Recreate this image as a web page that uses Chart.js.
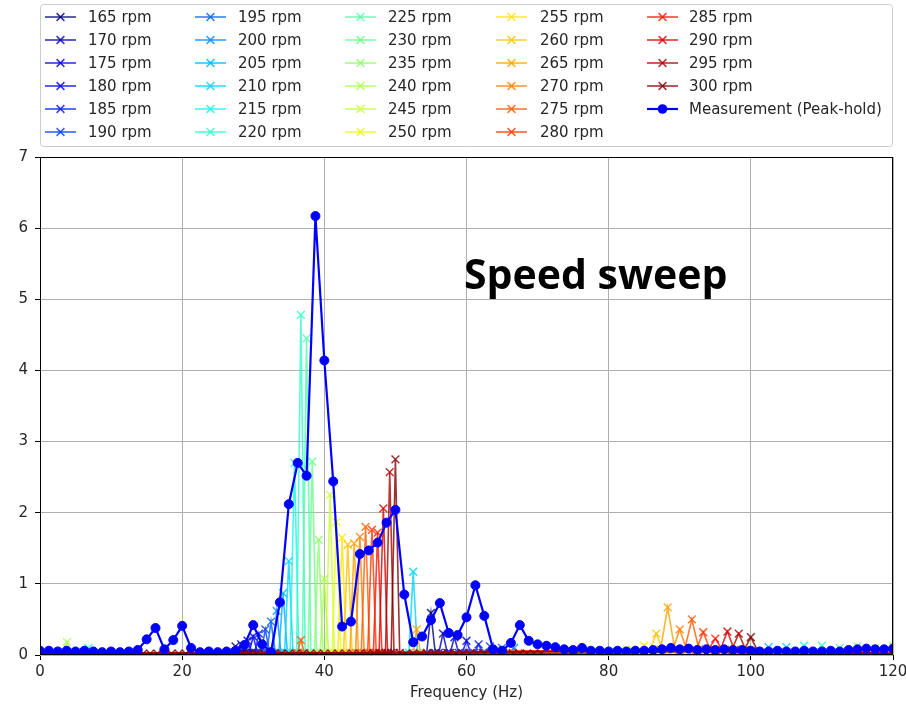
<!DOCTYPE html>
<html><head><meta charset="utf-8">
<script src="https://cdn.jsdelivr.net/npm/chart.js@4.4.1/dist/chart.umd.min.js"></script>
<style>html,body{margin:0;padding:0;background:#fff;}</style>
</head><body>
<canvas id="c" width="906" height="704"></canvas>
<script>
// ---------- DATA ----------
const rpmLabels = ['165 rpm','170 rpm','175 rpm','180 rpm','185 rpm','190 rpm','195 rpm','200 rpm','205 rpm','210 rpm','215 rpm','220 rpm','225 rpm','230 rpm','235 rpm','240 rpm','245 rpm','250 rpm','255 rpm','260 rpm','265 rpm','270 rpm','275 rpm','280 rpm','285 rpm','290 rpm','295 rpm','300 rpm'];
const measLabel = 'Measurement (Peak-hold)';

// [frequency Hz, amplitude] per speed
const s165 = [[0,0.02],[26.9,0.03],[27.5,0.12],[28.1,0.03],[54.4,0.03],[55.0,0.59],[55.6,0.03],[120,0.02]];
const s170 = [[0,0.02],[27.7,0.03],[28.3,0.15],[28.9,0.03],[56.1,0.03],[56.7,0.30],[57.3,0.03],[120,0.02]];
const s175 = [[0,0.02],[28.6,0.03],[29.2,0.20],[29.8,0.03],[57.7,0.03],[58.3,0.25],[58.9,0.03],[120,0.02]];
const s180 = [[0,0.02],[29.4,0.03],[30.0,0.26],[30.6,0.03],[59.4,0.03],[60.0,0.20],[60.6,0.03],[120,0.02]];
const s185 = [[0,0.02],[30.2,0.03],[30.8,0.30],[31.4,0.03],[61.1,0.03],[61.7,0.15],[62.3,0.03],[120,0.02]];
const s190 = [[0,0.02],[31.1,0.03],[31.7,0.36],[32.3,0.03],[62.7,0.03],[63.3,0.12],[63.9,0.03],[120,0.02]];
const s195 = [[0,0.02],[31.9,0.03],[32.5,0.47],[33.1,0.03],[64.4,0.03],[65.0,0.10],[65.6,0.03],[120,0.02]];
const s200 = [[0,0.02],[32.7,0.03],[33.3,0.62],[33.9,0.03],[66.1,0.03],[66.7,0.10],[67.3,0.03],[120,0.02]];
const s205 = [[0,0.02],[33.6,0.03],[34.2,0.87],[34.8,0.03],[101.9,0.03],[102.5,0.11],[103.1,0.03],[120,0.02]];
const s210 = [[0,0.02],[34.4,0.03],[35.0,1.32],[35.6,0.03],[51.9,0.03],[52.5,1.17],[53.1,0.03],[104.4,0.03],[105.0,0.11],[105.6,0.03],[120,0.02]];
const s215 = [[0,0.02],[6.2,0.03],[6.8,0.10],[7.4,0.03],[35.2,0.03],[35.8,2.70],[36.4,0.03],[106.9,0.03],[107.5,0.13],[108.1,0.03],[120,0.02]];
const s220 = [[0,0.02],[36.1,0.03],[36.7,4.78],[37.3,0.03],[109.4,0.03],[110.0,0.13],[110.6,0.03],[120,0.02]];
const s225 = [[0,0.02],[36.9,0.03],[37.5,4.45],[38.1,0.03],[111.9,0.03],[112.5,0.10],[113.1,0.03],[120,0.02]];
const s230 = [[0,0.02],[37.7,0.03],[38.3,2.72],[38.9,0.03],[114.4,0.03],[115.0,0.12],[115.6,0.03],[120,0.02]];
const s235 = [[0,0.02],[38.6,0.03],[39.2,1.62],[39.8,0.03],[116.9,0.03],[117.5,0.10],[118.1,0.03],[120,0.02]];
const s240 = [[0,0.02],[3.2,0.03],[3.8,0.18],[4.4,0.03],[39.4,0.03],[40.0,1.07],[40.6,0.03],[119.4,0.03],[120,0.13]];
const s245 = [[0,0.02],[40.2,0.03],[40.8,2.25],[41.4,0.03],[80.7,0.03],[81.7,0.06],[82.7,0.03],[120,0.02]];
const s250 = [[0,0.02],[41.1,0.03],[41.7,1.87],[42.3,0.03],[82.3,0.03],[83.3,0.08],[84.3,0.03],[120,0.02]];
const s255 = [[0,0.02],[41.9,0.03],[42.5,1.65],[43.1,0.03],[84.0,0.04],[85.0,0.13],[86.0,0.04],[120,0.02]];
const s260 = [[0,0.02],[42.7,0.03],[43.3,1.55],[43.9,0.03],[85.7,0.05],[86.7,0.30],[87.7,0.05],[120,0.02]];
const s265 = [[0,0.02],[43.6,0.03],[44.2,1.57],[44.8,0.03],[52.5,0.03],[53.0,0.36],[53.5,0.03],[87.3,0.08],[88.3,0.67],[89.3,0.08],[120,0.02]];
const s270 = [[0,0.02],[44.4,0.03],[45.0,1.66],[45.6,0.03],[89.0,0.07],[90.0,0.36],[91.0,0.07],[120,0.02]];
const s275 = [[0,0.02],[36.2,0.03],[36.7,0.21],[37.2,0.03],[45.2,0.03],[45.8,1.80],[46.4,0.03],[90.7,0.08],[91.7,0.50],[92.7,0.08],[120,0.02]];
const s280 = [[0,0.02],[46.1,0.03],[46.7,1.76],[47.3,0.03],[92.3,0.07],[93.3,0.32],[94.3,0.07],[120,0.02]];
const s285 = [[0,0.02],[46.9,0.03],[47.5,1.72],[48.1,0.03],[94.0,0.07],[95.0,0.23],[96.0,0.07],[120,0.02]];
const s290 = [[0,0.02],[47.7,0.03],[48.3,2.06],[48.9,0.03],[95.7,0.07],[96.7,0.33],[97.7,0.07],[120,0.02]];
const s295 = [[0,0.02],[48.6,0.03],[49.2,2.57],[49.8,0.03],[97.3,0.07],[98.3,0.30],[99.3,0.07],[120,0.02]];
const s300 = [[0,0.02],[14.5,0.02],[15.5,0.02],[16.5,0.02],[17.5,0.02],[18.5,0.02],[19.5,0.02],[20.5,0.02],[21.3,0.02],
  [28.5,0.02],[29.5,0.02],[30.5,0.02],[31.5,0.02],[33.0,0.02],[34.0,0.02],[35.0,0.02],[36.0,0.02],[37.0,0.02],[38.0,0.02],
  [39.0,0.02],[40.0,0.02],[41.0,0.02],[42.0,0.02],[43.0,0.02],[44.0,0.02],[45.0,0.02],[46.0,0.02],[47.0,0.02],[48.0,0.02],
  [49.4,0.03],[50.0,2.75],[50.6,0.03],[51.5,0.02],[52.5,0.02],[53.5,0.02],[54.5,0.02],[55.5,0.02],[56.5,0.02],[57.5,0.02],
  [58.5,0.02],[59.5,0.02],[60.5,0.02],[61.5,0.02],[62.5,0.02],[66.5,0.02],[67.5,0.02],[68.5,0.02],[69.5,0.02],[70.5,0.02],
  [99.0,0.06],[100.0,0.25],[101.0,0.05],[120,0.02]];
const rpmSeries = [s165,s170,s175,s180,s185,s190,s195,s200,s205,s210,s215,s220,s225,s230,s235,s240,s245,s250,s255,s260,s265,s270,s275,s280,s285,s290,s295,s300];

const measFreq = [0,1.25,2.5,3.75,5,6.25,7.5,8.75,10,11.25,12.5,13.75,15,16.25,17.5,18.75,20,21.25,22.5,23.75,25,26.25,27.5,28.75,30,31.25,32.5,33.75,35,36.25,37.5,38.75,40,41.25,42.5,43.75,45,46.25,47.5,48.75,50,51.25,52.5,53.75,55,56.25,57.5,58.75,60,61.25,62.5,63.75,65,66.25,67.5,68.75,70,71.25,72.5,73.75,75,76.25,77.5,78.75,80,81.25,82.5,83.75,85,86.25,87.5,88.75,90,91.25,92.5,93.75,95,96.25,97.5,98.75,100,101.25,102.5,103.75,105,106.25,107.5,108.75,110,111.25,112.5,113.75,115,116.25,117.5,118.75,120];
const measValues = [0.06,0.06,0.05,0.06,0.05,0.06,0.05,0.04,0.05,0.04,0.05,0.07,0.22,0.38,0.08,0.21,0.41,0.10,0.04,0.05,0.04,0.05,0.06,0.14,0.42,0.15,0.04,0.74,2.12,2.70,2.52,6.17,4.14,2.44,0.40,0.47,1.42,1.47,1.58,1.86,2.04,0.85,0.18,0.26,0.49,0.73,0.31,0.28,0.53,0.98,0.55,0.08,0.06,0.17,0.42,0.20,0.15,0.13,0.11,0.08,0.07,0.10,0.06,0.06,0.05,0.06,0.05,0.06,0.06,0.07,0.08,0.10,0.08,0.09,0.07,0.08,0.07,0.08,0.07,0.07,0.06,0.05,0.05,0.06,0.05,0.05,0.06,0.05,0.05,0.06,0.05,0.07,0.08,0.09,0.08,0.08,0.09];

const xTicks = [0,20,40,60,80,100,120];
const yTicks = [0,1,2,3,4,5,6,7];
const xTitle = 'Frequency (Hz)';
const annotationText = 'Speed sweep';

// ---------- STYLE ----------
const jetR=[[0,0],[0.35,0],[0.66,1],[0.89,1],[1,0.5]];
const jetG=[[0,0],[0.125,0],[0.375,1],[0.64,1],[0.91,0],[1,0]];
const jetB=[[0,0.5],[0.11,1],[0.34,1],[0.65,0],[1,0]];
function seg(t,p){for(let i=1;i<p.length;i++){if(t<=p[i][0]){const a=p[i-1],b=p[i];return a[1]+(b[1]-a[1])*(t-a[0])/(b[0]-a[0]);}}return p[p.length-1][1];}
function jet(t,a){return `rgba(${Math.round(255*seg(t,jetR))},${Math.round(255*seg(t,jetG))},${Math.round(255*seg(t,jetB))},${a})`;}

const TXT='#262626';
const FONT='"DejaVu Sans"';

const datasets = rpmSeries.map((s,i)=>({
  label: rpmLabels[i],
  data: s.map(p=>({x:p[0],y:p[1]})),
  borderColor: jet(i/(rpmSeries.length-1),0.8),
  backgroundColor: jet(i/(rpmSeries.length-1),0.8),
  borderWidth: 1.6,
  pointStyle: 'crossRot',
  pointRadius: 5.5,
  pointBorderWidth: 1.5,
  tension: 0,
  fill: false,
  order: 30 - i
}));
datasets.push({
  label: measLabel,
  data: measFreq.map((f,i)=>({x:f,y:measValues[i]})),
  borderColor: '#0000ff',
  backgroundColor: '#0000ff',
  borderWidth: 2.2,
  pointStyle: 'circle',
  pointRadius: 4.5,
  pointBorderWidth: 1,
  tension: 0,
  fill: false,
  order: 1
});

function drawMarker(ctx, style, x, y, color){
  ctx.save();
  ctx.strokeStyle=color; ctx.fillStyle=color;
  if(style==='circle'){
    ctx.beginPath(); ctx.arc(x,y,4.8,0,Math.PI*2); ctx.fill();
  } else {
    const o=3.9; ctx.lineWidth=1.5;
    ctx.beginPath(); ctx.moveTo(x-o,y-o); ctx.lineTo(x+o,y+o); ctx.moveTo(x-o,y+o); ctx.lineTo(x+o,y-o); ctx.stroke();
  }
  ctx.restore();
}

const extras = {
  id:'extras',
  afterDraw(chart){
    const ctx=chart.ctx, a=chart.chartArea;
    ctx.save();
    // frame
    ctx.strokeStyle='#000'; ctx.lineWidth=1;
    ctx.strokeRect(Math.round(a.left)+0.5, Math.round(a.top)+0.5, Math.round(a.right-a.left)-1, Math.round(a.bottom-a.top)-1);
    // legend box
    const bx=40.5, by=4.5, bw=852, bh=142, r=3;
    ctx.beginPath();
    ctx.moveTo(bx+r,by); ctx.lineTo(bx+bw-r,by); ctx.quadraticCurveTo(bx+bw,by,bx+bw,by+r);
    ctx.lineTo(bx+bw,by+bh-r); ctx.quadraticCurveTo(bx+bw,by+bh,bx+bw-r,by+bh);
    ctx.lineTo(bx+r,by+bh); ctx.quadraticCurveTo(bx,by+bh,bx,by+bh-r);
    ctx.lineTo(bx,by+r); ctx.quadraticCurveTo(bx,by,bx+r,by); ctx.closePath();
    ctx.fillStyle='rgba(255,255,255,0.9)'; ctx.fill();
    ctx.strokeStyle='#cccccc'; ctx.lineWidth=1; ctx.stroke();
    const colX=[45,195,345,496,647];
    const textX=[88,238,388,540,689];
    ctx.font='15px '+FONT; ctx.textBaseline='middle'; ctx.textAlign='left';
    chart.data.datasets.forEach((ds,i)=>{
      const c=Math.floor(i/6), rr=i%6, y=17+23*rr;
      ctx.strokeStyle=ds.borderColor; ctx.lineWidth=ds.borderWidth;
      ctx.beginPath(); ctx.moveTo(colX[c],y); ctx.lineTo(colX[c]+31,y); ctx.stroke();
      drawMarker(ctx, ds.pointStyle, colX[c]+15.5, y, ds.borderColor);
      ctx.fillStyle=TXT; ctx.fillText(ds.label, textX[c], y+1);
    });
    // annotation
    ctx.font='bold 41px "Open Sans"'; ctx.fillStyle='#000'; ctx.textBaseline='alphabetic';
    ctx.fillText(annotationText, 464, 289);
    ctx.restore();
  }
};

new Chart(document.getElementById('c'), {
  type:'line',
  data:{datasets},
  options:{
    responsive:false, animation:false, devicePixelRatio:1,
    events:[],
    layout:{padding:{top:157,right:13,left:0,bottom:0}},
    plugins:{legend:{display:false}, tooltip:{enabled:false}},
    scales:{
      x:{type:'linear', min:0, max:120,
        afterBuildTicks:s=>{s.ticks=xTicks.map(v=>({value:v}));},
        afterFit:s=>{s.height=49; s.paddingLeft=0; s.paddingRight=0;},
        grid:{color:'#b0b0b0', lineWidth:1, tickColor:'#000', tickLength:5},
        border:{display:false},
        ticks:{font:{family:FONT,size:15}, color:TXT, padding:3, maxRotation:0},
        title:{display:true, text:xTitle, font:{family:FONT,size:15}, color:TXT, padding:{top:0,bottom:2}}
      },
      y:{type:'linear', min:0, max:7,
        afterBuildTicks:s=>{s.ticks=yTicks.map(v=>({value:v}));},
        afterFit:s=>{s.width=40; s.paddingTop=0; s.paddingBottom=0;},
        grid:{color:'#b0b0b0', lineWidth:1, tickColor:'#000', tickLength:5},
        border:{display:false},
        ticks:{font:{family:FONT,size:15}, color:TXT, padding:7}
      }
    }
  },
  plugins:[extras]
});
</script>
</body></html>
